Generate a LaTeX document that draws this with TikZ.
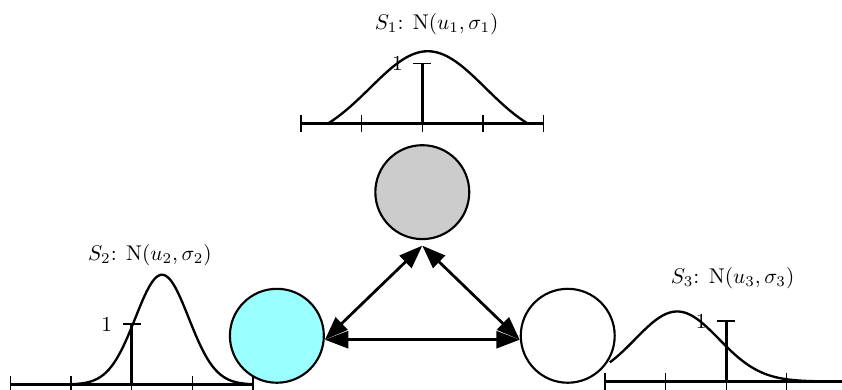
\documentclass[tikz,border=0pt]{standalone}
\usepackage{amsmath, amssymb}
\usepackage{tikz}
\usetikzlibrary{arrows.meta, positioning}

\definecolor{agentcyan}{RGB}{153,255,255}
\definecolor{agentgray}{RGB}{204,204,204}

\begin{document}
\begin{tikzpicture}[
	agent/.style={circle, draw, line width=1pt, minimum size=1.55cm},
	axisline/.style={line width=1.4pt},
	tickmark/.style={line width=0.6pt},
	density/.style={line width=1.1pt, smooth, samples=90},
	link/.style={{Triangle[length=11pt,width=8pt]}-{Triangle[length=11pt,width=8pt]}, line width=1.3pt}
	]
	\useasboundingbox (-6.969,-4.389) rectangle (6.926,2.046);
	
	% --- DISTRIBUTION OF S1 ---
	\begin{scope}
		\draw[axisline] (-2,0) -- (2,0);
		\foreach \x in {-2,...,2} \draw[tickmark] (\x,-0.14) -- (\x,0.14);
		\draw[axisline] (0,0) -- (0,1);
		\draw[tickmark] (-0.15,1) -- (0.15,1);
		\node (one1) [left] at (-0.2,1) {1};
		\draw[density, domain=-1.57:1.75] plot (\x, {1.533*exp(-0.554*(\x-0.09)*(\x-0.09)) - 0.333});
		\node (lab1) at (0.237,1.65) {$S_1$: N$(u_1,\sigma_1)$};
	\end{scope}
	
	% --- DISTRIBUTION OF S2 ---
	\begin{scope}[shift={(-4.795,-4.30)}]
		\draw[axisline] (-2,0) -- (2,0);
		\foreach \x in {-2,...,2} \draw[tickmark] (\x,-0.14) -- (\x,0.14);
		\draw[axisline] (0,0) -- (0,1);
		\draw[tickmark] (-0.15,1) -- (0.15,1);
		\node (one2) [left] at (-0.2,1) {1};
		\draw[density, domain=-2:2] plot (\x, {1.813*exp(-2.583*(\x-0.5)*(\x-0.5))});
		\node (lab2) at (0.3,2.14) {$S_2$: N$(u_2,\sigma_2)$};
	\end{scope}
	
	% --- DISTRIBUTION OF S3 ---
	\begin{scope}[shift={(5.015,-4.25)}]
		\draw[axisline] (-2,0) -- (2,0);
		\foreach \x in {-2,...,2} \draw[tickmark] (\x,-0.14) -- (\x,0.14);
		\draw[axisline] (0,0) -- (0,1);
		\draw[tickmark] (-0.15,1) -- (0.15,1);
		\node (one3) [left] at (-0.2,1) {1};
		\draw[density, domain=-1.92:2] plot (\x, {1.156*exp(-1.05*(\x+0.81)*(\x+0.81))});
		\node (lab3) at (0.105,1.71) {$S_3$: N$(u_3,\sigma_3)$};
	\end{scope}
	
	% --- AGENTS ---
	\node[agent, fill=agentgray] (s1) at (0,-1.125) {};
	\node[agent, fill=agentcyan] (s2) at (-2.4,-3.495) {};
	\node[agent, fill=white] (s3) at (2.4,-3.495) {};
	
	% --- LINKS ---
	\draw[link] ([yshift=-0.09cm]s1.south) -- ([yshift=-0.065cm]s2.east);
	\draw[link] ([yshift=-0.09cm]s1.south) -- ([yshift=-0.065cm]s3.west);
	\draw[link] ([yshift=-0.065cm]s2.east) -- ([yshift=-0.065cm]s3.west);
	
\end{tikzpicture}
\end{document}
